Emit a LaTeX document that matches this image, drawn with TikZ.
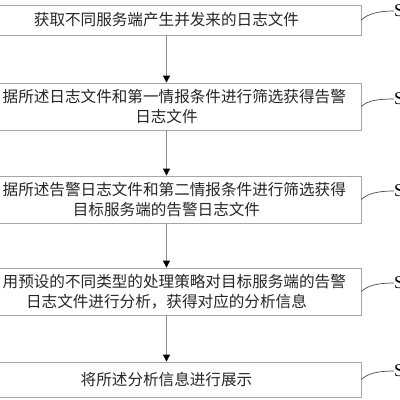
\documentclass[tikz,border=0pt]{standalone}
\usepackage{fontspec}
\setmainfont{Liberation Serif}
\newfontfamily\cjk{Noto Sans CJK SC}
\usetikzlibrary{arrows.meta,calc}
\definecolor{boxgray}{HTML}{A6A6A6}
\definecolor{arrgray}{HTML}{8C8C8C}
\definecolor{textc}{HTML}{262626}
\definecolor{curvec}{HTML}{4A4A4A}
\begin{document}
\begin{tikzpicture}[x=1pt,y=-1pt,
  box/.style={draw=boxgray, line width=0.8pt, minimum width=389pt, inner sep=0pt,
    align=center, font=\cjk\fontsize{15.6}{20.5}\selectfont, text=textc},
  arr/.style={draw=arrgray, line width=0.8pt, -{Triangle[length=7pt,width=7pt,color=black]}},
  lab/.style={anchor=west, inner sep=0pt, font=\fontsize{18}{18}\selectfont, text=black},
  lead/.style={draw=curvec, line width=0.7pt}]
\useasboundingbox (0,0) rectangle (400,400);
\clip (0,0) rectangle (400,400);
\fill[white] (0,0) rectangle (400,400);

\node[box, minimum height=30pt] (b1) at (166.5,20) {获取不同服务端产生并发来的日志文件};
\node[box, minimum height=47pt] (b2) at (166.5,106.5) {\hphantom{根}据所述日志文件和第一情报条件进行筛选获得告警\\日志文件};
\node[box, minimum height=47pt] (b3) at (166.5,199.5) {\hphantom{根}据所述告警日志文件和第二情报条件进行筛选获得\\目标服务端的告警日志文件};
\node[box, minimum height=47pt] (b4) at (166.5,291.5) {\hphantom{利}用预设的不同类型的处理策略对目标服务端的告警\\日志文件进行分析，获得对应的分析信息};
\node[box, minimum height=35pt] (b5) at (166.5,379.5) {将所述分析信息进行展示};

\draw[arr] (b1) -- (b2);
\draw[arr] (b2) -- (b3);
\draw[arr] (b3) -- (b4);
\draw[arr] (b4) -- (b5);

\node[lab] (s1) at (394,11) {S};
\node[lab] (s2) at (394,99) {S};
\node[lab] (s3) at (394,191) {S};
\node[lab] (s4) at (394,283) {S};
\node[lab] (s5) at (394,371) {S};

\foreach \b/\s in {b1/s1,b2/s2,b3/s3,b4/s4,b5/s5}{
  \draw[lead] (\b.east) .. controls ($(\b.east)+(6,-6)$) and ($(\s.west)+(-16,0)$) .. (\s.west);
}
\end{tikzpicture}
\end{document}
